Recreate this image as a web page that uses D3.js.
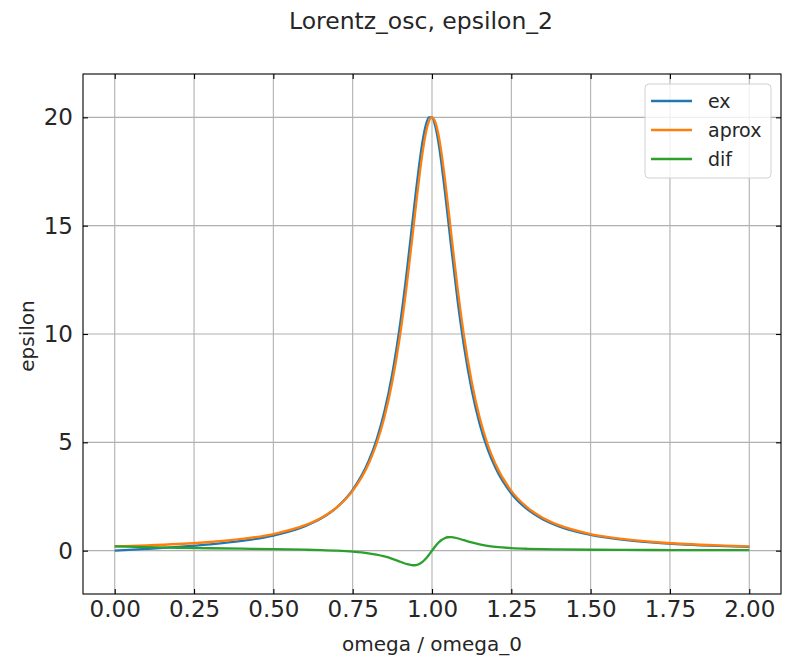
<!DOCTYPE html>
<html><head><meta charset="utf-8">
<script src="https://cdn.jsdelivr.net/npm/d3@7"></script>
<style>body{margin:0;background:#fff}svg{display:block}</style>
</head><body><div id="chart"></div>
<script>
const omega = [0,0.1,0.2,0.3,0.4,0.5,0.6,0.65,0.7,0.75,0.8,0.825,0.85,0.875,0.9,0.92,0.94,0.95,0.96,0.97,0.98,0.99,1.0,1.01,1.02,1.03,1.04,1.05,1.06,1.08,1.1,1.125,1.15,1.175,1.2,1.25,1.3,1.35,1.4,1.5,1.6,1.7,1.8,1.9,2.0];
const exVals = [0,0.082,0.173,0.289,0.449,0.699,1.132,1.484,2.002,2.805,4.124,5.107,6.421,8.182,10.511,12.811,15.380,16.663,17.856,18.868,19.608,20.0,20.0,19.608,18.868,17.857,16.666,15.380,14.081,11.622,9.514,7.427,5.863,4.698,3.822,2.639,1.913,1.441,1.120,0.726,0.505,0.369,0.280,0.219,0.175];
const aproxVals = [0.198,0.244,0.308,0.400,0.541,0.769,1.177,1.509,2.0,2.759,4.0,4.923,6.154,7.805,10.0,12.195,14.706,16.0,17.241,18.349,19.231,19.802,20.0,19.802,19.231,18.349,17.241,16.0,14.706,12.195,10.0,7.805,6.154,4.923,4.0,2.759,2.0,1.509,1.177,0.769,0.541,0.400,0.308,0.244,0.198];
const difVals = [0.198,0.162,0.134,0.111,0.091,0.071,0.044,0.025,-0.002,-0.046,-0.124,-0.184,-0.267,-0.377,-0.511,-0.616,-0.674,-0.663,-0.615,-0.519,-0.377,-0.198,0,0.194,0.363,0.492,0.575,0.619,0.625,0.573,0.486,0.378,0.290,0.225,0.178,0.119,0.087,0.068,0.057,0.043,0.036,0.031,0.028,0.025,0.023];
const xTicks = [0,0.25,0.5,0.75,1.0,1.25,1.5,1.75,2.0];
const yTicks = [0,5,10,15,20];
const seriesNames = ["ex","aprox","dif"];
const seriesColors = ["#1f77b4","#ff7f0e","#2ca02c"];

const W = 785, H = 657;
const L = 83, R = 781, T = 74, B = 594;
const svg = d3.select("#chart").append("svg").attr("width",W).attr("height",H);
const x = d3.scaleLinear().domain([-0.1,2.1]).range([L,R]);
const y = d3.scaleLinear().domain([-2,22]).range([B,T]);
const font = "DejaVu Sans, sans-serif";

// grid
const g = svg.append("g");
g.selectAll(".gx").data(xTicks).join("line")
  .attr("x1",d=>x(d)).attr("x2",d=>x(d)).attr("y1",T).attr("y2",B)
  .attr("stroke","#b0b0b0").attr("stroke-width",1.1);
g.selectAll(".gy").data(yTicks).join("line")
  .attr("y1",d=>y(d)).attr("y2",d=>y(d)).attr("x1",L).attr("x2",R)
  .attr("stroke","#b0b0b0").attr("stroke-width",1.1);

// lines
const series = [exVals, aproxVals, difVals];
const line = d3.line().x((d,i)=>x(omega[i])).y(d=>y(d)).curve(d3.curveMonotoneX);
series.forEach((s,k)=>{
  svg.append("path").datum(s).attr("d",line).attr("fill","none")
    .attr("stroke",seriesColors[k]).attr("stroke-width",2.3);
});

// axes with inward ticks
const tl = 5;
const axB = svg.append("g").attr("transform",`translate(0,${B})`)
  .call(d3.axisBottom(x).tickValues(xTicks).tickFormat(d3.format(".2f")).tickSizeInner(-tl).tickSizeOuter(0).tickPadding(7));
const axT = svg.append("g").attr("transform",`translate(0,${T})`)
  .call(d3.axisTop(x).tickValues(xTicks).tickFormat("").tickSizeInner(-tl).tickSizeOuter(0));
const axL = svg.append("g").attr("transform",`translate(${L},0)`)
  .call(d3.axisLeft(y).tickValues(yTicks).tickFormat(d3.format("d")).tickSizeInner(-tl).tickSizeOuter(0).tickPadding(10));
const axR = svg.append("g").attr("transform",`translate(${R},0)`)
  .call(d3.axisRight(y).tickValues(yTicks).tickFormat("").tickSizeInner(-tl).tickSizeOuter(0));
[axB,axT,axL,axR].forEach(a=>{
  a.select(".domain").remove();
  a.selectAll(".tick line").attr("stroke","#000").attr("stroke-width",1.1);
  a.selectAll("text").attr("font-family",font).attr("font-size",23).attr("fill","#262626");
});
svg.append("rect").attr("x",L).attr("y",T).attr("width",R-L).attr("height",B-T)
  .attr("fill","none").attr("stroke","#000").attr("stroke-width",1.1);

// labels
svg.append("text").attr("x",421).attr("y",29).attr("text-anchor","middle")
  .attr("font-family",font).attr("font-size",23.5).attr("fill","#262626").text("Lorentz_osc, epsilon_2");
svg.append("text").attr("x",(L+R)/2).attr("y",651).attr("text-anchor","middle")
  .attr("font-family",font).attr("font-size",20).attr("fill","#262626").text("omega / omega_0");
svg.append("text").attr("transform",`translate(34,${(T+B)/2+2}) rotate(-90)`).attr("text-anchor","middle")
  .attr("font-family",font).attr("font-size",20).attr("fill","#262626").text("epsilon");

// legend
const lg = svg.append("g");
lg.append("rect").attr("x",645).attr("y",84).attr("width",126).attr("height",94).attr("rx",4)
  .attr("fill","#fff").attr("fill-opacity",0.8).attr("stroke","#d0d0d0").attr("stroke-width",1);
seriesNames.forEach((n,k)=>{
  const yy = 101 + k*29;
  lg.append("line").attr("x1",651).attr("x2",692).attr("y1",yy).attr("y2",yy)
    .attr("stroke",seriesColors[k]).attr("stroke-width",2.3);
  lg.append("text").attr("x",708).attr("y",yy+7).attr("font-family",font).attr("font-size",19)
    .attr("fill","#262626").text(n);
});
</script></body></html>
